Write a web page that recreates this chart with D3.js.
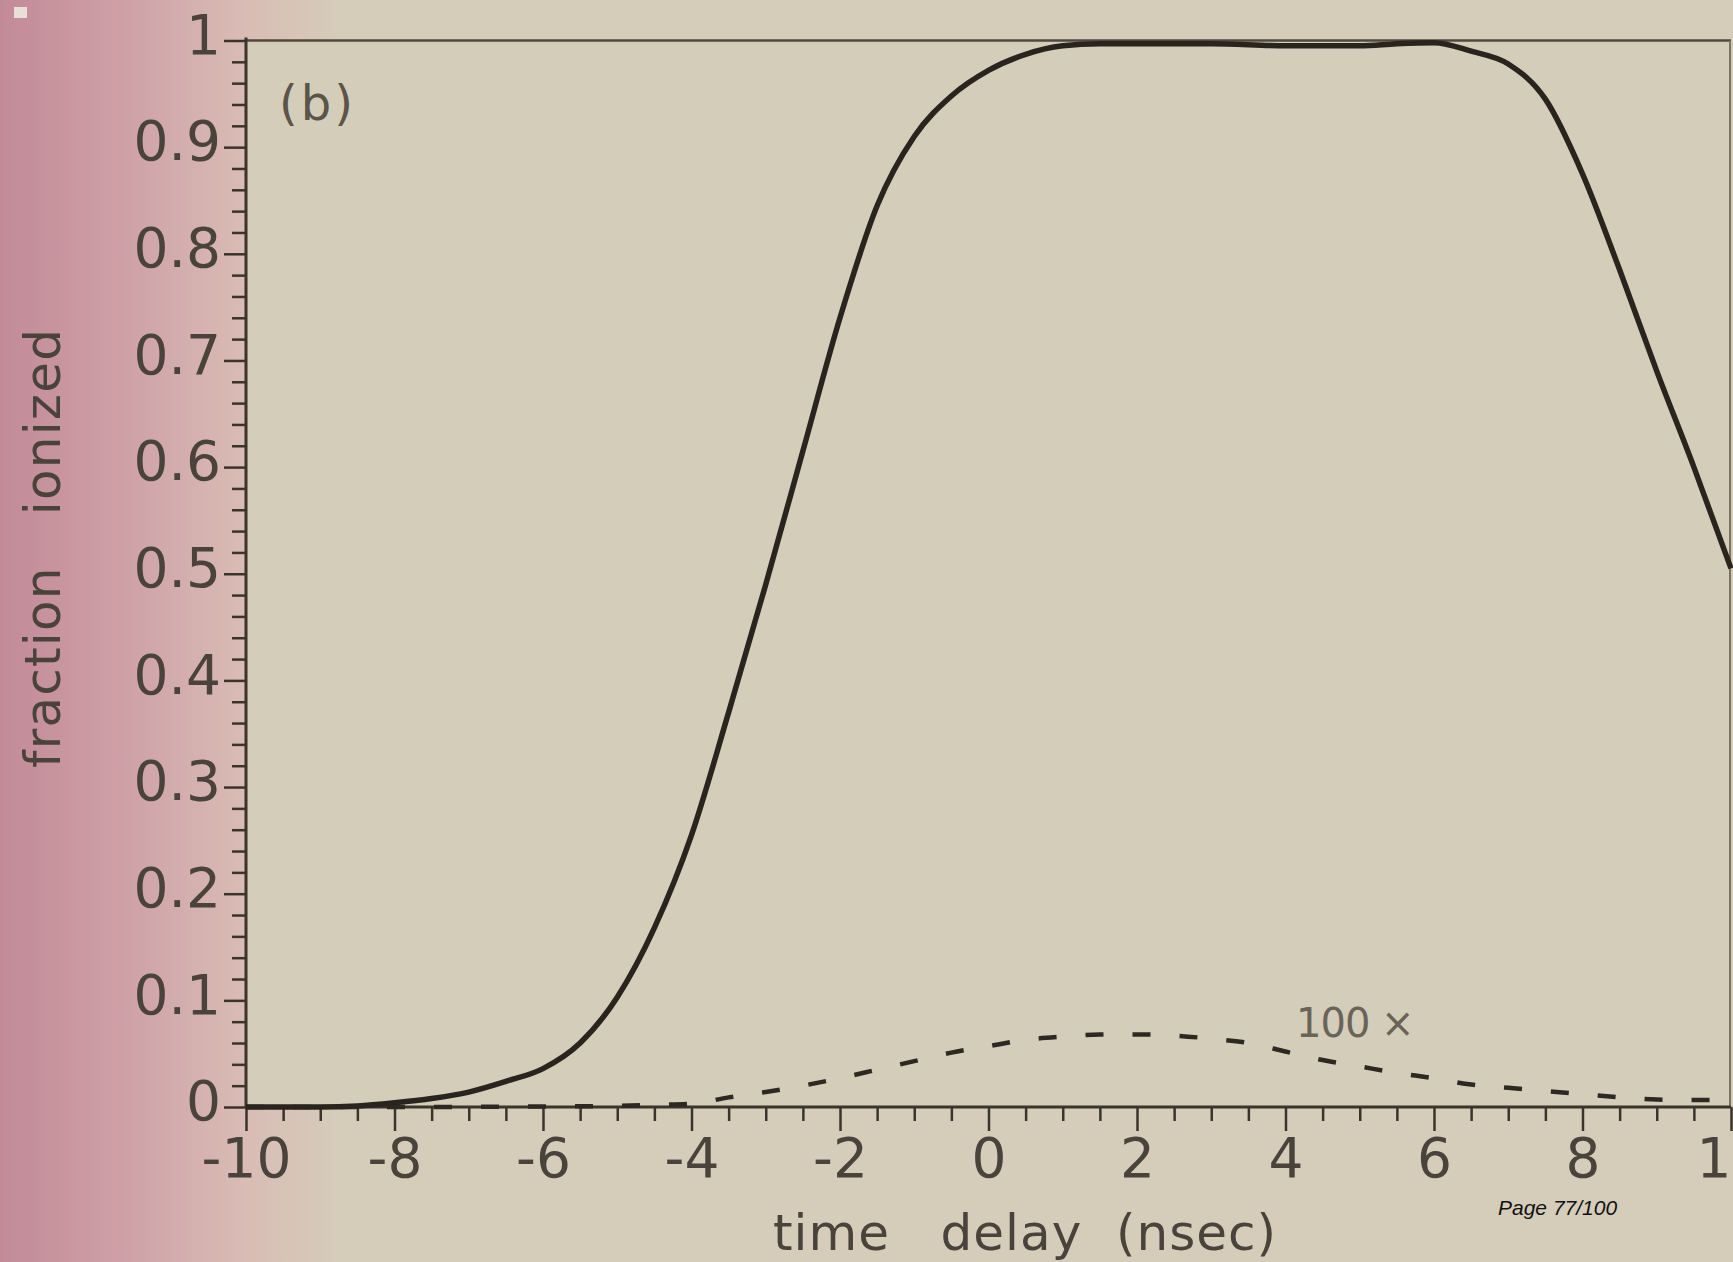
<!DOCTYPE html>
<html>
<head>
<meta charset="utf-8">
<script src="https://cdn.jsdelivr.net/npm/d3@7"></script>
<style>
  body { margin: 0; overflow: hidden; background: #d4cdb9; }
  svg { display: block; }
  text { font-family: "DejaVu Sans", sans-serif; }
</style>
</head>
<body>
<svg id="chart" width="1733" height="1262"></svg>
<script>
// time delay (nsec) for the solid curve
var solidTimes = [-10, -9, -8.5, -8, -7.5, -7, -6.5, -6, -5.5, -5, -4.5, -4, -3.5, -3, -2.5, -2, -1.5, -1, -0.5, 0, 0.5, 1, 1.5, 2, 3, 4, 5, 5.5, 6, 6.5, 7, 7.5, 8, 8.5, 9, 9.5, 10];
var solidFraction = [0, 0, 0.001, 0.004, 0.008, 0.014, 0.024, 0.036, 0.06, 0.103, 0.168, 0.255, 0.37, 0.49, 0.615, 0.74, 0.845, 0.91, 0.948, 0.972, 0.987, 0.995, 0.997, 0.997, 0.997, 0.995, 0.995, 0.997, 0.998, 0.99, 0.978, 0.945, 0.875, 0.785, 0.69, 0.6, 0.505];
// dashed curve, shown 100x
var dashTimes = [-10, -8, -6, -5, -4.5, -4, -3.5, -3, -2.5, -2, -1.5, -1, -0.5, 0, 0.5, 1, 1.5, 2, 2.5, 3, 3.5, 4, 4.5, 5, 5.5, 6, 6.5, 7, 7.5, 8, 8.5, 9, 9.5, 10];
var dashFraction = [0, 0, 0.0005, 0.001, 0.002, 0.003, 0.009, 0.014, 0.02, 0.027, 0.035, 0.043, 0.051, 0.057, 0.063, 0.066, 0.068, 0.068, 0.067, 0.064, 0.06, 0.052, 0.044, 0.038, 0.032, 0.027, 0.021, 0.018, 0.015, 0.012, 0.009, 0.007, 0.0066, 0.0066];
var xTicks = [-10, -8, -6, -4, -2, 0, 2, 4, 6, 8, 10];
var xTickLabels = ["-10", "-8", "-6", "-4", "-2", "0", "2", "4", "6", "8", "10"];
var yTicks = [0, 0.1, 0.2, 0.3, 0.4, 0.5, 0.6, 0.7, 0.8, 0.9, 1];
var yTickLabels = ["0", "0.1", "0.2", "0.3", "0.4", "0.5", "0.6", "0.7", "0.8", "0.9", "1"];

var svg = d3.select('#chart');
var plotL = 246, plotR = 1731, plotT = 40.5, plotB = 1107;
var x = d3.scaleLinear().domain([-10, 10]).range([plotL, plotR]);
var y = d3.scaleLinear().domain([0, 1]).range([plotB, plotT]);

// page background: pink fading into beige on the left
var grad = svg.append('defs').append('linearGradient').attr('id', 'bg')
  .attr('gradientUnits', 'userSpaceOnUse').attr('x1', 0).attr('x2', 340).attr('y1', 0).attr('y2', 0);
[[0, '#c28a97'], [0.4, '#cfa3a8'], [0.72, '#d9bcb5'], [1, '#d5ccb9']].forEach(function(s){
  grad.append('stop').attr('offset', s[0]).attr('stop-color', s[1]);
});
svg.append('rect').attr('width', 1733).attr('height', 1262).attr('fill', 'url(#bg)');
svg.append('rect').attr('x', plotL).attr('y', plotT).attr('width', plotR - plotL).attr('height', plotB - plotT).attr('fill', '#d4cdb9');
svg.append('rect').attr('x', 14).attr('y', 7).attr('width', 13).attr('height', 11).attr('fill', '#eadfd8');

// minor ticks
var xMinor = d3.range(-10, 10.01, 0.5).filter(function(v){ return xTicks.indexOf(v) < 0; });
var yMinor = d3.range(0, 50).map(function(i){ return i / 50; }).filter(function(v, i){ return i % 5 !== 0; });

var gx = svg.append('g').attr('transform', 'translate(0,' + plotB + ')');
gx.call(d3.axisBottom(x).tickValues(xMinor).tickSize(14).tickFormat(''));
gx.append('g').call(d3.axisBottom(x).tickValues(xTicks).tickSize(24).tickPadding(7)
  .tickFormat(function(d, i){ return xTickLabels[i]; }));

var gy = svg.append('g').attr('transform', 'translate(' + plotL + ',0)');
gy.call(d3.axisLeft(y).tickValues(yMinor).tickSize(14).tickFormat(''));
gy.append('g').call(d3.axisLeft(y).tickValues(yTicks).tickSize(22).tickPadding(3)
  .tickFormat(function(d, i){ return yTickLabels[i]; }));

svg.selectAll('.domain').remove();
svg.selectAll('.tick line').attr('stroke', '#3b342c').attr('stroke-width', 2.5);
svg.selectAll('.tick text').attr('fill', '#4a433b').style('font-size', '55px');
gy.selectAll('.tick text').attr('dy', '0.23em');

// frame
svg.append('line').attr('x1', plotL).attr('x2', plotR).attr('y1', plotT).attr('y2', plotT).attr('stroke', '#50493e').attr('stroke-width', 2.5);
svg.append('line').attr('x1', plotR - 1).attr('x2', plotR - 1).attr('y1', plotT).attr('y2', plotB).attr('stroke', '#7a7262').attr('stroke-width', 2);
svg.append('line').attr('x1', plotL).attr('x2', plotR).attr('y1', plotB).attr('y2', plotB).attr('stroke', '#3b342c').attr('stroke-width', 3);
svg.append('line').attr('x1', plotL).attr('x2', plotL).attr('y1', plotT - 3).attr('y2', plotB).attr('stroke', '#3b342c').attr('stroke-width', 3);

var line = d3.line().curve(d3.curveMonotoneX)
  .x(function(d){ return x(d[0]); })
  .y(function(d){ return y(d[1]); });

svg.append('path').datum(dashTimes.map(function(t, i){ return [t, dashFraction[i]]; }))
  .attr('d', line).attr('fill', 'none').attr('stroke', '#2e2822').attr('stroke-width', 4.5)
  .attr('stroke-dasharray', '18 29');
svg.append('path').datum(solidTimes.map(function(t, i){ return [t, solidFraction[i]]; }))
  .attr('d', line).attr('fill', 'none').attr('stroke', '#2a241f').attr('stroke-width', 5.5)
  .attr('stroke-linejoin', 'round');

// labels
svg.append('text').attr('x', 1025).attr('y', 1250).attr('text-anchor', 'middle')
  .style('font-size', '50px').style('letter-spacing', '1px').style('white-space', 'pre')
  .attr('fill', '#4a433b').text('time   delay  (nsec)');
svg.append('text').attr('transform', 'translate(60,548) rotate(-90)').attr('text-anchor', 'middle')
  .style('font-size', '50px').style('letter-spacing', '1.2px').style('white-space', 'pre')
  .attr('fill', '#4a433b').text('fraction   ionized');
svg.append('text').attr('x', 279).attr('y', 120).style('font-size', '48px').style('letter-spacing', '3px')
  .attr('fill', '#5b544a').text('(b)');
svg.append('text').attr('x', 1296).attr('y', 1037).style('font-size', '40px').style('letter-spacing', '-1px')
  .attr('fill', '#6a6357').text('100 ×');
svg.append('text').attr('x', 1498).attr('y', 1215).style('font-family', '"Liberation Sans", Arial, sans-serif')
  .style('font-style', 'italic').style('font-size', '21px').attr('fill', '#111').text('Page 77/100');
</script>
</body>
</html>
